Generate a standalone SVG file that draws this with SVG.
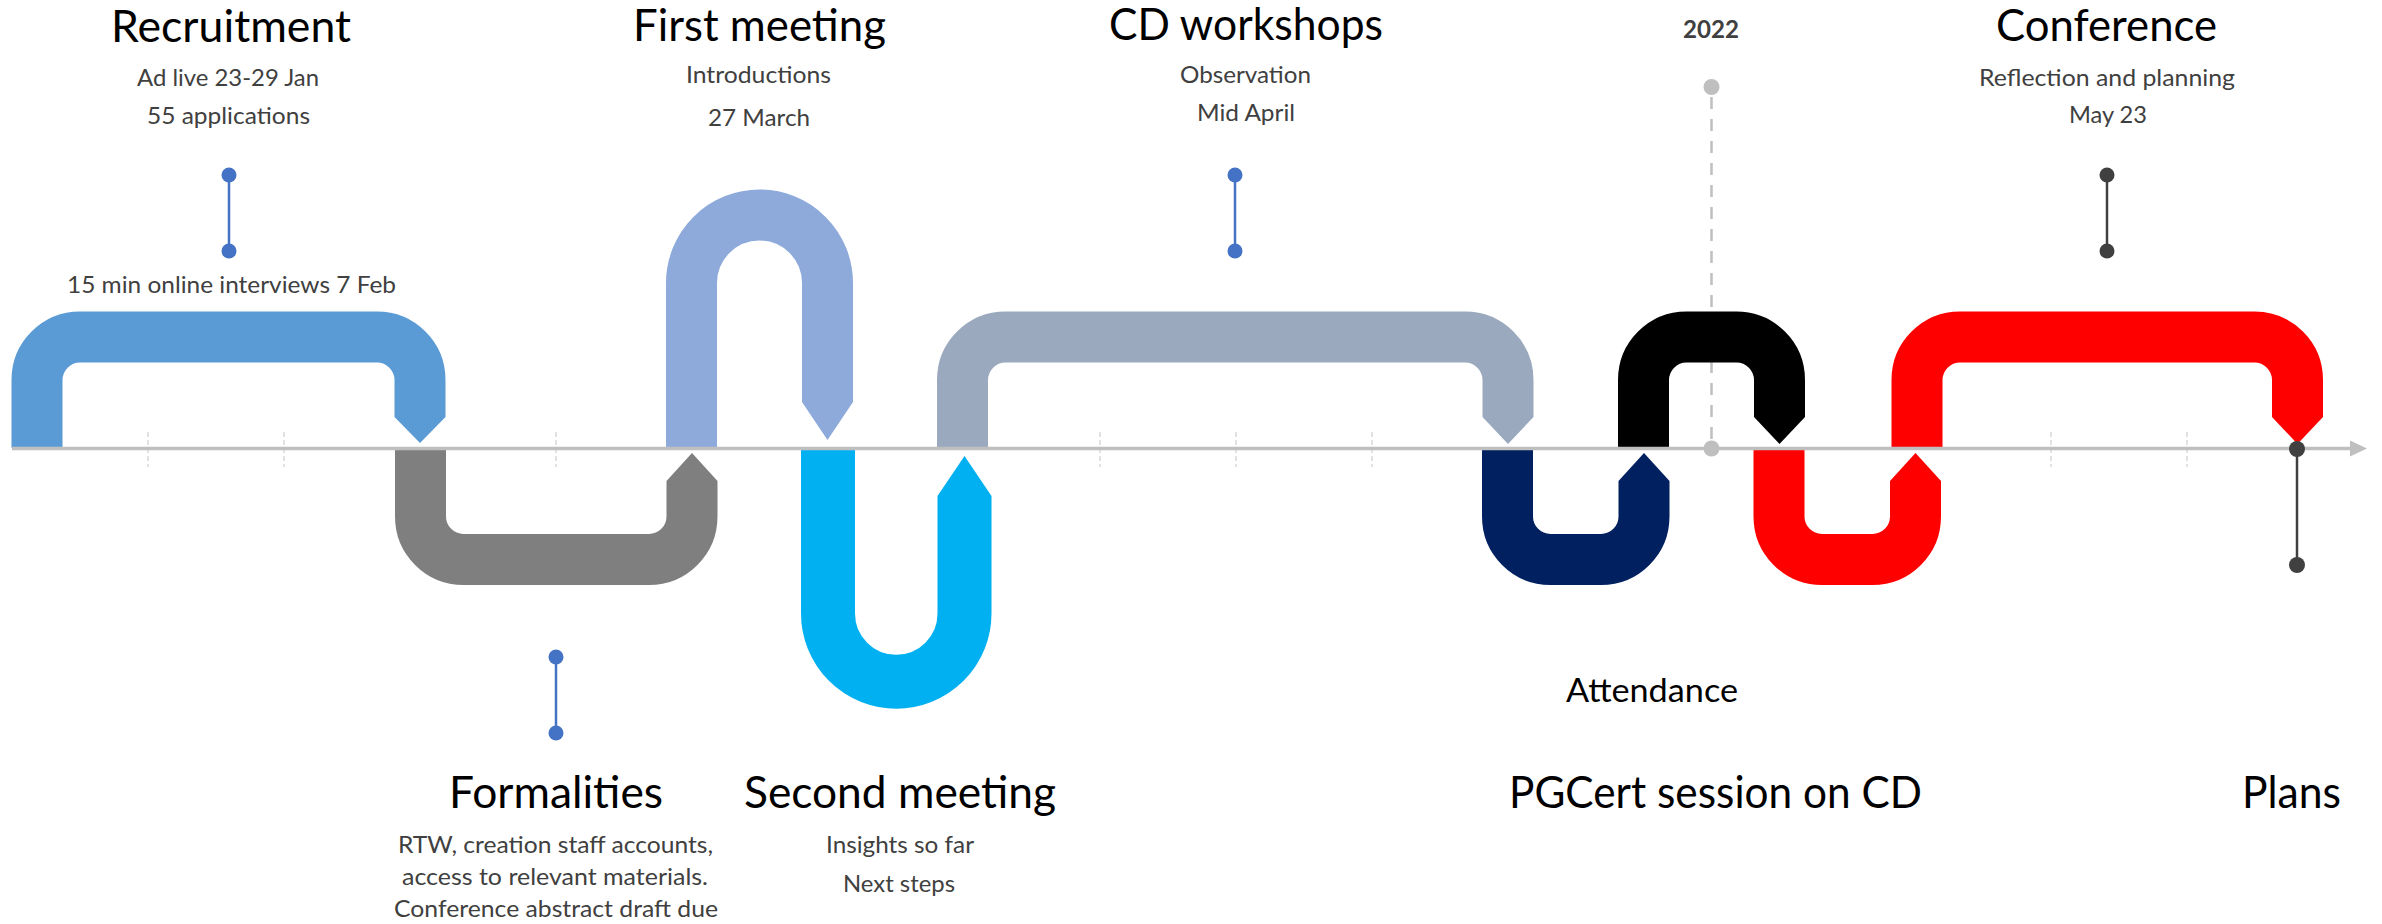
<svg xmlns="http://www.w3.org/2000/svg" width="2382" height="924" viewBox="0 0 2382 924">
<style>
text { font-family: Lato, "Liberation Sans", sans-serif; text-anchor: middle; }
.t { font-size: 44px; fill: #000000; }
.s { font-size: 24px; fill: #404040; }
.yr { font-size: 25px; font-weight: bold; fill: #404040; }
.att { font-size: 33px; fill: #000000; }
.band { fill: none; stroke-linecap: butt; stroke-width: 51; }
.tick { stroke: #d9d9d9; stroke-width: 1.5; stroke-dasharray: 5 3; }
.pin-b { stroke: #4472c4; stroke-width: 2.5; }
.dot-b { fill: #4472c4; }
.pin-d { stroke: #404040; stroke-width: 2.5; }
.dot-d { fill: #404040; }
</style>
<rect width="2382" height="924" fill="#ffffff"/>

<g id="ticks">
  <line class="tick" x1="148" y1="432" x2="148" y2="467"/>
  <line class="tick" x1="284" y1="432" x2="284" y2="467"/>
  <line class="tick" x1="556" y1="432" x2="556" y2="467"/>
  <line class="tick" x1="1100" y1="432" x2="1100" y2="467"/>
  <line class="tick" x1="1236" y1="432" x2="1236" y2="467"/>
  <line class="tick" x1="1372" y1="432" x2="1372" y2="467"/>
  <line class="tick" x1="2051" y1="432" x2="2051" y2="467"/>
  <line class="tick" x1="2187" y1="432" x2="2187" y2="467"/>
</g>

<g id="year-2022">
  <line x1="1711.5" y1="97" x2="1711.5" y2="440" stroke="#bfbfbf" stroke-width="2.5" stroke-dasharray="12 10"/>
  <circle cx="1711.5" cy="87" r="8" fill="#bfbfbf"/>
  <text class="yr" x="1711" y="38" textLength="56" lengthAdjust="spacingAndGlyphs">2022</text>
</g>

<g id="recruitment">
  <path class="band" stroke="#5b9bd5" d="M37,448 V380 A43,43 0 0 1 80,337 H377 A43,43 0 0 1 420,380 V417"/>
  <polygon fill="#5b9bd5" points="394.5,417 445.5,417 420,443"/>
  <text class="t" x="231" y="42" textLength="240" lengthAdjust="spacingAndGlyphs">Recruitment</text>
  <text class="s" x="228" y="86" textLength="182" lengthAdjust="spacingAndGlyphs">Ad live 23-29 Jan</text>
  <text class="s" x="228.5" y="124" textLength="163" lengthAdjust="spacingAndGlyphs">55 applications</text>
  <text class="s" x="231.5" y="293" textLength="329" lengthAdjust="spacingAndGlyphs">15 min online interviews 7 Feb</text>
</g>

<g id="formalities">
  <path class="band" stroke="#7f7f7f" d="M420.5,448 V516.5 A43,43 0 0 0 463.5,559.5 H649 A43,43 0 0 0 692,516.5 V481"/>
  <polygon fill="#7f7f7f" points="666.5,481 717.5,481 692,453"/>
  <text class="t" x="556" y="808" textLength="214" lengthAdjust="spacingAndGlyphs">Formalities</text>
  <text class="s" x="555.5" y="853" textLength="315" lengthAdjust="spacingAndGlyphs">RTW, creation staff accounts,</text>
  <text class="s" x="555" y="885" textLength="306" lengthAdjust="spacingAndGlyphs">access to relevant materials.</text>
  <text class="s" x="556" y="917" textLength="324" lengthAdjust="spacingAndGlyphs">Conference abstract draft due</text>
</g>

<g id="first-meeting">
  <path class="band" stroke="#8eaadb" d="M691.5,448 V283 A68,68 0 0 1 827.5,283 V402"/>
  <polygon fill="#8eaadb" points="802,402 853,402 827.5,440"/>
  <text class="t" x="759.5" y="41" textLength="253" lengthAdjust="spacingAndGlyphs">First meeting</text>
  <text class="s" x="758.5" y="83" textLength="145" lengthAdjust="spacingAndGlyphs">Introductions</text>
  <text class="s" x="759" y="126" textLength="102" lengthAdjust="spacingAndGlyphs">27 March</text>
</g>

<g id="second-meeting">
  <path class="band" stroke="#00b0f0" style="stroke-width:54" d="M828,448 V613.5 A68.25,68.25 0 0 0 964.5,613.5 V496"/>
  <polygon fill="#00b0f0" points="937.5,496 991.5,496 964.5,456"/>
  <text class="t" x="900" y="808" textLength="312" lengthAdjust="spacingAndGlyphs">Second meeting</text>
  <text class="s" x="900" y="853" textLength="148" lengthAdjust="spacingAndGlyphs">Insights so far</text>
  <text class="s" x="899" y="892" textLength="112" lengthAdjust="spacingAndGlyphs">Next steps</text>
</g>

<g id="cd-workshops">
  <path class="band" stroke="#9aa9be" d="M962.5,448 V380 A43,43 0 0 1 1005.5,337 H1465 A43,43 0 0 1 1508,380 V417"/>
  <polygon fill="#9aa9be" points="1482.5,417 1533.5,417 1508,444"/>
  <text class="t" x="1246" y="40" textLength="274" lengthAdjust="spacingAndGlyphs">CD workshops</text>
  <text class="s" x="1245.5" y="83" textLength="131" lengthAdjust="spacingAndGlyphs">Observation</text>
  <text class="s" x="1246" y="121" textLength="98" lengthAdjust="spacingAndGlyphs">Mid April</text>
</g>

<g id="pgcert-session">
  <path class="band" stroke="#002060" d="M1507.5,448 V516.5 A43,43 0 0 0 1550.5,559.5 H1601 A43,43 0 0 0 1644,516.5 V481"/>
  <polygon fill="#002060" points="1618.5,481 1669.5,481 1644,453"/>
  <text class="att" x="1652" y="702" textLength="172" lengthAdjust="spacingAndGlyphs">Attendance</text>
  <text class="t" x="1715.5" y="808" textLength="413" lengthAdjust="spacingAndGlyphs">PGCert session on CD</text>
</g>

<g id="black-step">
  <path class="band" stroke="#000000" d="M1643.5,448 V380 A43,43 0 0 1 1686.5,337 H1736.5 A43,43 0 0 1 1779.5,380 V417"/>
  <polygon fill="#000000" points="1754,417 1805,417 1779.5,444"/>
</g>

<g id="red-step">
  <path class="band" stroke="#ff0000" d="M1779,448 V516.5 A43,43 0 0 0 1822,559.5 H1872.5 A43,43 0 0 0 1915.5,516.5 V481"/>
  <polygon fill="#ff0000" points="1890,481 1941,481 1915.5,453"/>
</g>

<g id="conference">
  <path class="band" stroke="#ff0000" d="M1917,448 V380 A43,43 0 0 1 1960,337 H2254.5 A43,43 0 0 1 2297.5,380 V417"/>
  <polygon fill="#ff0000" points="2272,417 2323,417 2297.5,444"/>
  <text class="t" x="2106.5" y="41" textLength="221" lengthAdjust="spacingAndGlyphs">Conference</text>
  <text class="s" x="2107" y="86" textLength="256" lengthAdjust="spacingAndGlyphs">Reflection and planning</text>
  <text class="s" x="2108" y="123" textLength="78" lengthAdjust="spacingAndGlyphs">May 23</text>
</g>

<g id="plans">
  <text class="t" x="2291.5" y="808" textLength="99" lengthAdjust="spacingAndGlyphs">Plans</text>
</g>

<g id="axis">
  <line x1="12" y1="448.5" x2="2351" y2="448.5" stroke="#bfbfbf" stroke-width="3.5"/>
  <polygon fill="#bfbfbf" points="2350,440.5 2367,448.5 2350,456.5"/>
  <circle cx="1711.5" cy="448.5" r="8" fill="#bfbfbf"/>
</g>

<g id="connectors">
  <line class="pin-b" x1="229" y1="175" x2="229" y2="251"/>
  <circle class="dot-b" cx="229" cy="175" r="7.5"/>
  <circle class="dot-b" cx="229" cy="251" r="7.5"/>
  <line class="pin-b" x1="1235" y1="175" x2="1235" y2="251"/>
  <circle class="dot-b" cx="1235" cy="175" r="7.5"/>
  <circle class="dot-b" cx="1235" cy="251" r="7.5"/>
  <line class="pin-b" x1="556" y1="657" x2="556" y2="733"/>
  <circle class="dot-b" cx="556" cy="657" r="7.5"/>
  <circle class="dot-b" cx="556" cy="733" r="7.5"/>
  <line class="pin-d" x1="2107" y1="175" x2="2107" y2="251"/>
  <circle class="dot-d" cx="2107" cy="175" r="7.5"/>
  <circle class="dot-d" cx="2107" cy="251" r="7.5"/>
  <line class="pin-d" x1="2297" y1="449" x2="2297" y2="565"/>
  <circle class="dot-d" cx="2297" cy="449" r="8"/>
  <circle class="dot-d" cx="2297" cy="565" r="8"/>
</g>
</svg>
